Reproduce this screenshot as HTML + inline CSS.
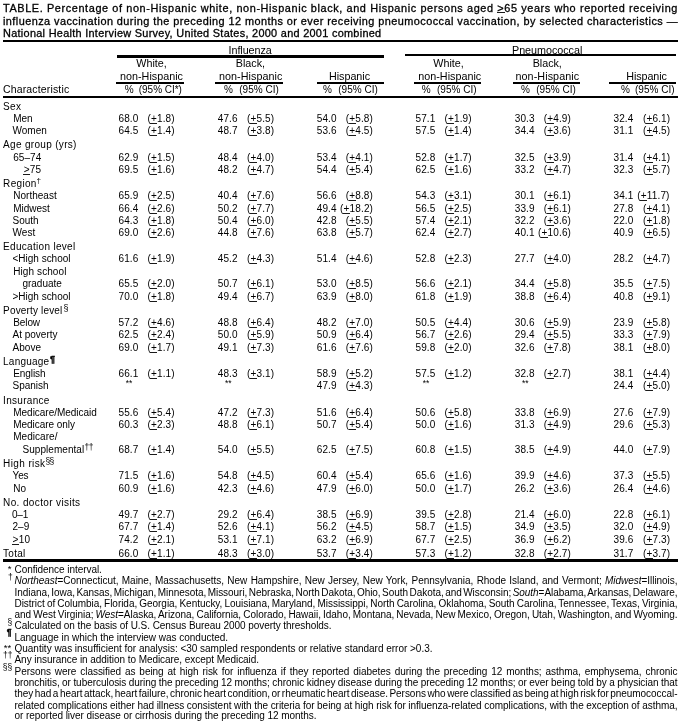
<!DOCTYPE html><html lang="en"><head><meta charset="utf-8"><title>TABLE. Influenza and pneumococcal vaccination, persons aged ≥65 years</title><style>
html,body{margin:0;padding:0;background:#fff;}
#w{position:absolute;left:0;top:0;width:684px;height:723px;overflow:hidden;will-change:transform;}
body{width:684px;height:723px;position:relative;overflow:hidden;font-family:"Liberation Sans",Arial,Helvetica,sans-serif;color:#000;}
.x{position:absolute;white-space:nowrap;line-height:12px;transform-origin:0 0;}
.t{font-size:10.9px;font-weight:normal;-webkit-text-stroke:0.3px #000;}
.h{font-size:10.75px;}
.h2{font-size:10px;}
.h3{font-size:10.5px;}
.b{font-size:10px;}
.f{font-size:10px;letter-spacing:-0.04px;}
.m{font-size:8.5px;}
.s{font-size:8.5px;}
.pg{-webkit-text-stroke:0.4px #000;}
.n{font-size:10px;letter-spacing:0.15px;}
.ma{font-size:9.5px;}
.r{position:absolute;background:#000;}
u{text-decoration:none;display:inline-block;position:relative;}
u:after{content:"";position:absolute;left:-0.5px;right:-0.5px;bottom:1px;height:1px;background:#1a1a1a;}
</style></head><body><div id="w">
<div class="r" style="left:3px;top:40px;width:675px;height:2px"></div>
<div class="r" style="left:117px;top:55px;width:267px;height:3px"></div>
<div class="r" style="left:405px;top:54px;width:271px;height:2px"></div>
<div class="r" style="left:116px;top:82px;width:68px;height:2px"></div>
<div class="r" style="left:215px;top:82px;width:68px;height:2px"></div>
<div class="r" style="left:317px;top:82px;width:67px;height:2px"></div>
<div class="r" style="left:414px;top:82px;width:67px;height:2px"></div>
<div class="r" style="left:513px;top:82px;width:67px;height:2px"></div>
<div class="r" style="left:609px;top:82px;width:67px;height:2px"></div>
<div class="r" style="left:3px;top:96px;width:675px;height:2px"></div>
<div class="r" style="left:3px;top:559px;width:675px;height:3px"></div>
<div class="x t" style="left:3px;top:2px;letter-spacing:0.604px;">TABLE. Percentage of non-Hispanic white, non-Hispanic black, and Hispanic persons aged <u>&gt;</u>65 years who reported receiving</div>
<div class="x t" style="left:3px;top:15px;letter-spacing:0.442px;">influenza vaccination during the preceding 12 months or ever receiving pneumococcal vaccination, by selected characteristics —</div>
<div class="x t" style="left:3px;top:27px;letter-spacing:0.294px;">National Health Interview Survey, United States, 2000 and 2001 combined</div>
<div class="x h" style="left:228.5px;top:44px;letter-spacing:-0.043px;">Influenza</div>
<div class="x h" style="left:512px;top:44px;letter-spacing:-0.022px;">Pneumococcal</div>
<div class="x h" style="left:136.25px;top:57px;letter-spacing:0.005px;">White,</div>
<div class="x h" style="left:433.25px;top:57px;letter-spacing:0.005px;">White,</div>
<div class="x h" style="left:235.75px;top:57px;letter-spacing:-0.005px;">Black,</div>
<div class="x h" style="left:532.75px;top:57px;letter-spacing:-0.047px;">Black,</div>
<div class="x h" style="left:120px;top:70px;letter-spacing:0.021px;">non-Hispanic</div>
<div class="x h" style="left:219px;top:70px;letter-spacing:0.062px;">non-Hispanic</div>
<div class="x h" style="left:418.25px;top:70px;letter-spacing:0.021px;">non-Hispanic</div>
<div class="x h" style="left:515.5px;top:70px;letter-spacing:0.083px;">non-Hispanic</div>
<div class="x h" style="left:329px;top:70px;letter-spacing:-0.029px;">Hispanic</div>
<div class="x h" style="left:626.25px;top:70px;letter-spacing:-0.092px;">Hispanic</div>
<div class="x h3" style="left:3px;top:83px;letter-spacing:0.151px;">Characteristic</div>
<div class="x h2" style="left:124.7px;top:84px;">%</div>
<div class="x h2" style="left:138.75px;top:84px;letter-spacing:-0.018px;">(95% CI*)</div>
<div class="x h2" style="left:223.95px;top:84px;">%</div>
<div class="x h2" style="left:239.25px;top:84px;letter-spacing:0.006px;">(95% CI)</div>
<div class="x h2" style="left:322.95px;top:84px;">%</div>
<div class="x h2" style="left:338.25px;top:84px;letter-spacing:0.006px;">(95% CI)</div>
<div class="x h2" style="left:421.7px;top:84px;">%</div>
<div class="x h2" style="left:437px;top:84px;letter-spacing:0.006px;">(95% CI)</div>
<div class="x h2" style="left:520.95px;top:84px;">%</div>
<div class="x h2" style="left:536.25px;top:84px;letter-spacing:0.006px;">(95% CI)</div>
<div class="x h2" style="left:620.95px;top:84px;">%</div>
<div class="x h2" style="left:635px;top:84px;letter-spacing:0.006px;">(95% CI)</div>
<div class="x b" style="left:3.1px;top:101px;letter-spacing:0.305px;">Sex</div>
<div class="x b" style="left:13.25px;top:113px;letter-spacing:-0.068px;">Men</div>
<div class="x n" style="left:118.45px;top:113px;">68.0</div>
<div class="x n" style="left:147.5px;top:113px;">(<u>+</u>1.8)</div>
<div class="x n" style="left:217.7px;top:113px;">47.6</div>
<div class="x n" style="left:247px;top:113px;">(<u>+</u>5.5)</div>
<div class="x n" style="left:316.7px;top:113px;">54.0</div>
<div class="x n" style="left:345.75px;top:113px;">(<u>+</u>5.8)</div>
<div class="x n" style="left:415.45px;top:113px;">57.1</div>
<div class="x n" style="left:444.5px;top:113px;">(<u>+</u>1.9)</div>
<div class="x n" style="left:514.7px;top:113px;">30.3</div>
<div class="x n" style="left:543.75px;top:113px;">(<u>+</u>4.9)</div>
<div class="x n" style="left:613.45px;top:113px;">32.4</div>
<div class="x n" style="left:643px;top:113px;">(<u>+</u>6.1)</div>
<div class="x b" style="left:12.5px;top:125px;letter-spacing:-0.006px;">Women</div>
<div class="x n" style="left:118.45px;top:125px;">64.5</div>
<div class="x n" style="left:147.5px;top:125px;">(<u>+</u>1.4)</div>
<div class="x n" style="left:217.7px;top:125px;">48.7</div>
<div class="x n" style="left:247px;top:125px;">(<u>+</u>3.8)</div>
<div class="x n" style="left:316.7px;top:125px;">53.6</div>
<div class="x n" style="left:345.75px;top:125px;">(<u>+</u>4.5)</div>
<div class="x n" style="left:415.45px;top:125px;">57.5</div>
<div class="x n" style="left:444.5px;top:125px;">(<u>+</u>1.4)</div>
<div class="x n" style="left:514.7px;top:125px;">34.4</div>
<div class="x n" style="left:543.75px;top:125px;">(<u>+</u>3.6)</div>
<div class="x n" style="left:613.45px;top:125px;">31.1</div>
<div class="x n" style="left:643px;top:125px;">(<u>+</u>4.5)</div>
<div class="x b" style="left:3.1px;top:139px;letter-spacing:0.315px;">Age group (yrs)</div>
<div class="x b" style="left:13.25px;top:152px;letter-spacing:0.037px;">65–74</div>
<div class="x n" style="left:118.45px;top:152px;">62.9</div>
<div class="x n" style="left:147.5px;top:152px;">(<u>+</u>1.5)</div>
<div class="x n" style="left:217.7px;top:152px;">48.4</div>
<div class="x n" style="left:247px;top:152px;">(<u>+</u>4.0)</div>
<div class="x n" style="left:316.7px;top:152px;">53.4</div>
<div class="x n" style="left:345.75px;top:152px;">(<u>+</u>4.1)</div>
<div class="x n" style="left:415.45px;top:152px;">52.8</div>
<div class="x n" style="left:444.5px;top:152px;">(<u>+</u>1.7)</div>
<div class="x n" style="left:514.7px;top:152px;">32.5</div>
<div class="x n" style="left:543.75px;top:152px;">(<u>+</u>3.9)</div>
<div class="x n" style="left:613.45px;top:152px;">31.4</div>
<div class="x n" style="left:643px;top:152px;">(<u>+</u>4.1)</div>
<div class="x b" style="left:23.75px;top:164px;letter-spacing:0.177px;"><u>&gt;</u>75</div>
<div class="x n" style="left:118.45px;top:164px;">69.5</div>
<div class="x n" style="left:147.5px;top:164px;">(<u>+</u>1.6)</div>
<div class="x n" style="left:217.7px;top:164px;">48.2</div>
<div class="x n" style="left:247px;top:164px;">(<u>+</u>4.7)</div>
<div class="x n" style="left:316.7px;top:164px;">54.4</div>
<div class="x n" style="left:345.75px;top:164px;">(<u>+</u>5.4)</div>
<div class="x n" style="left:415.45px;top:164px;">62.5</div>
<div class="x n" style="left:444.5px;top:164px;">(<u>+</u>1.6)</div>
<div class="x n" style="left:514.7px;top:164px;">33.2</div>
<div class="x n" style="left:543.75px;top:164px;">(<u>+</u>4.7)</div>
<div class="x n" style="left:613.45px;top:164px;">32.3</div>
<div class="x n" style="left:643px;top:164px;">(<u>+</u>5.7)</div>
<div class="x b" style="left:3.1px;top:178px;letter-spacing:0.324px;">Region</div>
<div class="x s" style="left:36.4px;top:175px;font-size:8px;">†</div>
<div class="x b" style="left:13.25px;top:190px;letter-spacing:0.016px;">Northeast</div>
<div class="x n" style="left:118.45px;top:190px;">65.9</div>
<div class="x n" style="left:147.5px;top:190px;">(<u>+</u>2.5)</div>
<div class="x n" style="left:217.7px;top:190px;">40.4</div>
<div class="x n" style="left:247px;top:190px;">(<u>+</u>7.6)</div>
<div class="x n" style="left:316.7px;top:190px;">56.6</div>
<div class="x n" style="left:345.75px;top:190px;">(<u>+</u>8.8)</div>
<div class="x n" style="left:415.45px;top:190px;">54.3</div>
<div class="x n" style="left:444.5px;top:190px;">(<u>+</u>3.1)</div>
<div class="x n" style="left:514.7px;top:190px;">30.1</div>
<div class="x n" style="left:543.75px;top:190px;">(<u>+</u>6.1)</div>
<div class="x n" style="left:613.45px;top:190px;">34.1</div>
<div class="x n" style="left:637.3px;top:190px;">(<u>+</u>11.7)</div>
<div class="x b" style="left:13.25px;top:203px;letter-spacing:-0.027px;">Midwest</div>
<div class="x n" style="left:118.45px;top:203px;">66.4</div>
<div class="x n" style="left:147.5px;top:203px;">(<u>+</u>2.6)</div>
<div class="x n" style="left:217.7px;top:203px;">50.2</div>
<div class="x n" style="left:247px;top:203px;">(<u>+</u>7.7)</div>
<div class="x n" style="left:316.7px;top:203px;">49.4</div>
<div class="x n" style="left:340.05px;top:203px;">(<u>+</u>18.2)</div>
<div class="x n" style="left:415.45px;top:203px;">56.5</div>
<div class="x n" style="left:444.5px;top:203px;">(<u>+</u>2.5)</div>
<div class="x n" style="left:514.7px;top:203px;">33.9</div>
<div class="x n" style="left:543.75px;top:203px;">(<u>+</u>6.1)</div>
<div class="x n" style="left:613.45px;top:203px;">27.8</div>
<div class="x n" style="left:643px;top:203px;">(<u>+</u>4.1)</div>
<div class="x b" style="left:12.5px;top:215px;letter-spacing:-0.028px;">South</div>
<div class="x n" style="left:118.45px;top:215px;">64.3</div>
<div class="x n" style="left:147.5px;top:215px;">(<u>+</u>1.8)</div>
<div class="x n" style="left:217.7px;top:215px;">50.4</div>
<div class="x n" style="left:247px;top:215px;">(<u>+</u>6.0)</div>
<div class="x n" style="left:316.7px;top:215px;">42.8</div>
<div class="x n" style="left:345.75px;top:215px;">(<u>+</u>5.5)</div>
<div class="x n" style="left:415.45px;top:215px;">57.4</div>
<div class="x n" style="left:444.5px;top:215px;">(<u>+</u>2.1)</div>
<div class="x n" style="left:514.7px;top:215px;">32.2</div>
<div class="x n" style="left:543.75px;top:215px;">(<u>+</u>3.6)</div>
<div class="x n" style="left:613.45px;top:215px;">22.0</div>
<div class="x n" style="left:643px;top:215px;">(<u>+</u>1.8)</div>
<div class="x b" style="left:12.5px;top:227px;letter-spacing:0.098px;">West</div>
<div class="x n" style="left:118.45px;top:227px;">69.0</div>
<div class="x n" style="left:147.5px;top:227px;">(<u>+</u>2.6)</div>
<div class="x n" style="left:217.7px;top:227px;">44.8</div>
<div class="x n" style="left:247px;top:227px;">(<u>+</u>7.6)</div>
<div class="x n" style="left:316.7px;top:227px;">63.8</div>
<div class="x n" style="left:345.75px;top:227px;">(<u>+</u>5.7)</div>
<div class="x n" style="left:415.45px;top:227px;">62.4</div>
<div class="x n" style="left:444.5px;top:227px;">(<u>+</u>2.7)</div>
<div class="x n" style="left:514.7px;top:227px;">40.1</div>
<div class="x n" style="left:538.05px;top:227px;">(<u>+</u>10.6)</div>
<div class="x n" style="left:613.45px;top:227px;">40.9</div>
<div class="x n" style="left:643px;top:227px;">(<u>+</u>6.5)</div>
<div class="x b" style="left:3.1px;top:241px;letter-spacing:0.305px;">Education level</div>
<div class="x b" style="left:12.5px;top:253px;letter-spacing:-0.008px;">&lt;High school</div>
<div class="x n" style="left:118.45px;top:253px;">61.6</div>
<div class="x n" style="left:147.5px;top:253px;">(<u>+</u>1.9)</div>
<div class="x n" style="left:217.7px;top:253px;">45.2</div>
<div class="x n" style="left:247px;top:253px;">(<u>+</u>4.3)</div>
<div class="x n" style="left:316.7px;top:253px;">51.4</div>
<div class="x n" style="left:345.75px;top:253px;">(<u>+</u>4.6)</div>
<div class="x n" style="left:415.45px;top:253px;">52.8</div>
<div class="x n" style="left:444.5px;top:253px;">(<u>+</u>2.3)</div>
<div class="x n" style="left:514.7px;top:253px;">27.7</div>
<div class="x n" style="left:543.75px;top:253px;">(<u>+</u>4.0)</div>
<div class="x n" style="left:613.45px;top:253px;">28.2</div>
<div class="x n" style="left:643px;top:253px;">(<u>+</u>4.7)</div>
<div class="x b" style="left:13.25px;top:266px;letter-spacing:0.089px;">High school</div>
<div class="x b" style="left:22.5px;top:278px;letter-spacing:-0.029px;">graduate</div>
<div class="x n" style="left:118.45px;top:278px;">65.5</div>
<div class="x n" style="left:147.5px;top:278px;">(<u>+</u>2.0)</div>
<div class="x n" style="left:217.7px;top:278px;">50.7</div>
<div class="x n" style="left:247px;top:278px;">(<u>+</u>6.1)</div>
<div class="x n" style="left:316.7px;top:278px;">53.0</div>
<div class="x n" style="left:345.75px;top:278px;">(<u>+</u>8.5)</div>
<div class="x n" style="left:415.45px;top:278px;">56.6</div>
<div class="x n" style="left:444.5px;top:278px;">(<u>+</u>2.1)</div>
<div class="x n" style="left:514.7px;top:278px;">34.4</div>
<div class="x n" style="left:543.75px;top:278px;">(<u>+</u>5.8)</div>
<div class="x n" style="left:613.45px;top:278px;">35.5</div>
<div class="x n" style="left:643px;top:278px;">(<u>+</u>7.5)</div>
<div class="x b" style="left:12.5px;top:291px;letter-spacing:-0.008px;">&gt;High school</div>
<div class="x n" style="left:118.45px;top:291px;">70.0</div>
<div class="x n" style="left:147.5px;top:291px;">(<u>+</u>1.8)</div>
<div class="x n" style="left:217.7px;top:291px;">49.4</div>
<div class="x n" style="left:247px;top:291px;">(<u>+</u>6.7)</div>
<div class="x n" style="left:316.7px;top:291px;">63.9</div>
<div class="x n" style="left:345.75px;top:291px;">(<u>+</u>8.0)</div>
<div class="x n" style="left:415.45px;top:291px;">61.8</div>
<div class="x n" style="left:444.5px;top:291px;">(<u>+</u>1.9)</div>
<div class="x n" style="left:514.7px;top:291px;">38.8</div>
<div class="x n" style="left:543.75px;top:291px;">(<u>+</u>6.4)</div>
<div class="x n" style="left:613.45px;top:291px;">40.8</div>
<div class="x n" style="left:643px;top:291px;">(<u>+</u>9.1)</div>
<div class="x b" style="left:3.1px;top:305px;letter-spacing:0.165px;">Poverty level</div>
<div class="x s" style="left:63.6px;top:302px;font-size:9px;">§</div>
<div class="x b" style="left:13.25px;top:317px;letter-spacing:-0.100px;">Below</div>
<div class="x n" style="left:118.45px;top:317px;">57.2</div>
<div class="x n" style="left:147.5px;top:317px;">(<u>+</u>4.6)</div>
<div class="x n" style="left:217.7px;top:317px;">48.8</div>
<div class="x n" style="left:247px;top:317px;">(<u>+</u>6.4)</div>
<div class="x n" style="left:316.7px;top:317px;">48.2</div>
<div class="x n" style="left:345.75px;top:317px;">(<u>+</u>7.0)</div>
<div class="x n" style="left:415.45px;top:317px;">50.5</div>
<div class="x n" style="left:444.5px;top:317px;">(<u>+</u>4.4)</div>
<div class="x n" style="left:514.7px;top:317px;">30.6</div>
<div class="x n" style="left:543.75px;top:317px;">(<u>+</u>5.9)</div>
<div class="x n" style="left:613.45px;top:317px;">23.9</div>
<div class="x n" style="left:643px;top:317px;">(<u>+</u>5.8)</div>
<div class="x b" style="left:12.5px;top:329px;letter-spacing:-0.003px;">At poverty</div>
<div class="x n" style="left:118.45px;top:329px;">62.5</div>
<div class="x n" style="left:147.5px;top:329px;">(<u>+</u>2.4)</div>
<div class="x n" style="left:217.7px;top:329px;">50.0</div>
<div class="x n" style="left:247px;top:329px;">(<u>+</u>5.9)</div>
<div class="x n" style="left:316.7px;top:329px;">50.9</div>
<div class="x n" style="left:345.75px;top:329px;">(<u>+</u>6.4)</div>
<div class="x n" style="left:415.45px;top:329px;">56.7</div>
<div class="x n" style="left:444.5px;top:329px;">(<u>+</u>2.6)</div>
<div class="x n" style="left:514.7px;top:329px;">29.4</div>
<div class="x n" style="left:543.75px;top:329px;">(<u>+</u>5.5)</div>
<div class="x n" style="left:613.45px;top:329px;">33.3</div>
<div class="x n" style="left:643px;top:329px;">(<u>+</u>7.9)</div>
<div class="x b" style="left:12.5px;top:342px;letter-spacing:0.028px;">Above</div>
<div class="x n" style="left:118.45px;top:342px;">69.0</div>
<div class="x n" style="left:147.5px;top:342px;">(<u>+</u>1.7)</div>
<div class="x n" style="left:217.7px;top:342px;">49.1</div>
<div class="x n" style="left:247px;top:342px;">(<u>+</u>7.3)</div>
<div class="x n" style="left:316.7px;top:342px;">61.6</div>
<div class="x n" style="left:345.75px;top:342px;">(<u>+</u>7.6)</div>
<div class="x n" style="left:415.45px;top:342px;">59.8</div>
<div class="x n" style="left:444.5px;top:342px;">(<u>+</u>2.0)</div>
<div class="x n" style="left:514.7px;top:342px;">32.6</div>
<div class="x n" style="left:543.75px;top:342px;">(<u>+</u>7.8)</div>
<div class="x n" style="left:613.45px;top:342px;">38.1</div>
<div class="x n" style="left:643px;top:342px;">(<u>+</u>8.0)</div>
<div class="x b" style="left:3.1px;top:356px;letter-spacing:0.206px;">Language</div>
<div class="x s" style="left:49.9px;top:353px;font-size:9px;"><b class="pg">¶</b></div>
<div class="x b" style="left:13.25px;top:368px;letter-spacing:-0.080px;">English</div>
<div class="x n" style="left:118.45px;top:368px;">66.1</div>
<div class="x n" style="left:147.5px;top:368px;">(<u>+</u>1.1)</div>
<div class="x n" style="left:217.7px;top:368px;">48.3</div>
<div class="x n" style="left:247px;top:368px;">(<u>+</u>3.1)</div>
<div class="x n" style="left:316.7px;top:368px;">58.9</div>
<div class="x n" style="left:345.75px;top:368px;">(<u>+</u>5.2)</div>
<div class="x n" style="left:415.45px;top:368px;">57.5</div>
<div class="x n" style="left:444.5px;top:368px;">(<u>+</u>1.2)</div>
<div class="x n" style="left:514.7px;top:368px;">32.8</div>
<div class="x n" style="left:543.75px;top:368px;">(<u>+</u>2.7)</div>
<div class="x n" style="left:613.45px;top:368px;">38.1</div>
<div class="x n" style="left:643px;top:368px;">(<u>+</u>4.4)</div>
<div class="x b" style="left:12.5px;top:380px;letter-spacing:-0.020px;">Spanish</div>
<div class="x s" style="left:125.75px;top:377px;">**</div>
<div class="x s" style="left:225px;top:377px;">**</div>
<div class="x n" style="left:316.7px;top:380px;">47.9</div>
<div class="x n" style="left:345.75px;top:380px;">(<u>+</u>4.3)</div>
<div class="x s" style="left:422.75px;top:377px;">**</div>
<div class="x s" style="left:522px;top:377px;">**</div>
<div class="x n" style="left:613.45px;top:380px;">24.4</div>
<div class="x n" style="left:643px;top:380px;">(<u>+</u>5.0)</div>
<div class="x b" style="left:3.1px;top:395px;letter-spacing:0.303px;">Insurance</div>
<div class="x b" style="left:13.25px;top:407px;letter-spacing:-0.026px;">Medicare/Medicaid</div>
<div class="x n" style="left:118.45px;top:407px;">55.6</div>
<div class="x n" style="left:147.5px;top:407px;">(<u>+</u>5.4)</div>
<div class="x n" style="left:217.7px;top:407px;">47.2</div>
<div class="x n" style="left:247px;top:407px;">(<u>+</u>7.3)</div>
<div class="x n" style="left:316.7px;top:407px;">51.6</div>
<div class="x n" style="left:345.75px;top:407px;">(<u>+</u>6.4)</div>
<div class="x n" style="left:415.45px;top:407px;">50.6</div>
<div class="x n" style="left:444.5px;top:407px;">(<u>+</u>5.8)</div>
<div class="x n" style="left:514.7px;top:407px;">33.8</div>
<div class="x n" style="left:543.75px;top:407px;">(<u>+</u>6.9)</div>
<div class="x n" style="left:613.45px;top:407px;">27.6</div>
<div class="x n" style="left:643px;top:407px;">(<u>+</u>7.9)</div>
<div class="x b" style="left:13.25px;top:419px;letter-spacing:-0.040px;">Medicare only</div>
<div class="x n" style="left:118.45px;top:419px;">60.3</div>
<div class="x n" style="left:147.5px;top:419px;">(<u>+</u>2.3)</div>
<div class="x n" style="left:217.7px;top:419px;">48.8</div>
<div class="x n" style="left:247px;top:419px;">(<u>+</u>6.1)</div>
<div class="x n" style="left:316.7px;top:419px;">50.7</div>
<div class="x n" style="left:345.75px;top:419px;">(<u>+</u>5.4)</div>
<div class="x n" style="left:415.45px;top:419px;">50.0</div>
<div class="x n" style="left:444.5px;top:419px;">(<u>+</u>1.6)</div>
<div class="x n" style="left:514.7px;top:419px;">31.3</div>
<div class="x n" style="left:543.75px;top:419px;">(<u>+</u>4.9)</div>
<div class="x n" style="left:613.45px;top:419px;">29.6</div>
<div class="x n" style="left:643px;top:419px;">(<u>+</u>5.3)</div>
<div class="x b" style="left:13.25px;top:431px;letter-spacing:0.038px;">Medicare/</div>
<div class="x b" style="left:22.5px;top:444px;letter-spacing:0.049px;">Supplemental</div>
<div class="x s" style="left:84.6px;top:441px;font-size:8.5px;letter-spacing:-0.6px;">††</div>
<div class="x n" style="left:118.45px;top:444px;">68.7</div>
<div class="x n" style="left:147.5px;top:444px;">(<u>+</u>1.4)</div>
<div class="x n" style="left:217.7px;top:444px;">54.0</div>
<div class="x n" style="left:247px;top:444px;">(<u>+</u>5.5)</div>
<div class="x n" style="left:316.7px;top:444px;">62.5</div>
<div class="x n" style="left:345.75px;top:444px;">(<u>+</u>7.5)</div>
<div class="x n" style="left:415.45px;top:444px;">60.8</div>
<div class="x n" style="left:444.5px;top:444px;">(<u>+</u>1.5)</div>
<div class="x n" style="left:514.7px;top:444px;">38.5</div>
<div class="x n" style="left:543.75px;top:444px;">(<u>+</u>4.9)</div>
<div class="x n" style="left:613.45px;top:444px;">44.0</div>
<div class="x n" style="left:643px;top:444px;">(<u>+</u>7.9)</div>
<div class="x b" style="left:3.1px;top:458px;letter-spacing:0.388px;">High risk</div>
<div class="x s" style="left:45.45px;top:455px;font-size:8.5px;letter-spacing:-0.6px;">§§</div>
<div class="x b" style="left:12.5px;top:470px;letter-spacing:-0.109px;">Yes</div>
<div class="x n" style="left:118.45px;top:470px;">71.5</div>
<div class="x n" style="left:147.5px;top:470px;">(<u>+</u>1.6)</div>
<div class="x n" style="left:217.7px;top:470px;">54.8</div>
<div class="x n" style="left:247px;top:470px;">(<u>+</u>4.5)</div>
<div class="x n" style="left:316.7px;top:470px;">60.4</div>
<div class="x n" style="left:345.75px;top:470px;">(<u>+</u>5.4)</div>
<div class="x n" style="left:415.45px;top:470px;">65.6</div>
<div class="x n" style="left:444.5px;top:470px;">(<u>+</u>1.6)</div>
<div class="x n" style="left:514.7px;top:470px;">39.9</div>
<div class="x n" style="left:543.75px;top:470px;">(<u>+</u>4.6)</div>
<div class="x n" style="left:613.45px;top:470px;">37.3</div>
<div class="x n" style="left:643px;top:470px;">(<u>+</u>5.5)</div>
<div class="x b" style="left:13.25px;top:483px;letter-spacing:0.102px;">No</div>
<div class="x n" style="left:118.45px;top:483px;">60.9</div>
<div class="x n" style="left:147.5px;top:483px;">(<u>+</u>1.6)</div>
<div class="x n" style="left:217.7px;top:483px;">42.3</div>
<div class="x n" style="left:247px;top:483px;">(<u>+</u>4.6)</div>
<div class="x n" style="left:316.7px;top:483px;">47.9</div>
<div class="x n" style="left:345.75px;top:483px;">(<u>+</u>6.0)</div>
<div class="x n" style="left:415.45px;top:483px;">50.0</div>
<div class="x n" style="left:444.5px;top:483px;">(<u>+</u>1.7)</div>
<div class="x n" style="left:514.7px;top:483px;">26.2</div>
<div class="x n" style="left:543.75px;top:483px;">(<u>+</u>3.6)</div>
<div class="x n" style="left:613.45px;top:483px;">26.4</div>
<div class="x n" style="left:643px;top:483px;">(<u>+</u>4.6)</div>
<div class="x b" style="left:3.1px;top:497px;letter-spacing:0.368px;">No. doctor visits</div>
<div class="x b" style="left:12px;top:509px;letter-spacing:-0.229px;">0–1</div>
<div class="x n" style="left:118.45px;top:509px;">49.7</div>
<div class="x n" style="left:147.5px;top:509px;">(<u>+</u>2.7)</div>
<div class="x n" style="left:217.7px;top:509px;">29.2</div>
<div class="x n" style="left:247px;top:509px;">(<u>+</u>6.4)</div>
<div class="x n" style="left:316.7px;top:509px;">38.5</div>
<div class="x n" style="left:345.75px;top:509px;">(<u>+</u>6.9)</div>
<div class="x n" style="left:415.45px;top:509px;">39.5</div>
<div class="x n" style="left:444.5px;top:509px;">(<u>+</u>2.8)</div>
<div class="x n" style="left:514.7px;top:509px;">21.4</div>
<div class="x n" style="left:543.75px;top:509px;">(<u>+</u>6.0)</div>
<div class="x n" style="left:613.45px;top:509px;">22.8</div>
<div class="x n" style="left:643px;top:509px;">(<u>+</u>6.1)</div>
<div class="x b" style="left:12.5px;top:521px;letter-spacing:0.021px;">2–9</div>
<div class="x n" style="left:118.45px;top:521px;">67.7</div>
<div class="x n" style="left:147.5px;top:521px;">(<u>+</u>1.4)</div>
<div class="x n" style="left:217.7px;top:521px;">52.6</div>
<div class="x n" style="left:247px;top:521px;">(<u>+</u>4.1)</div>
<div class="x n" style="left:316.7px;top:521px;">56.2</div>
<div class="x n" style="left:345.75px;top:521px;">(<u>+</u>4.5)</div>
<div class="x n" style="left:415.45px;top:521px;">58.7</div>
<div class="x n" style="left:444.5px;top:521px;">(<u>+</u>1.5)</div>
<div class="x n" style="left:514.7px;top:521px;">34.9</div>
<div class="x n" style="left:543.75px;top:521px;">(<u>+</u>3.5)</div>
<div class="x n" style="left:613.45px;top:521px;">32.0</div>
<div class="x n" style="left:643px;top:521px;">(<u>+</u>4.9)</div>
<div class="x b" style="left:12.5px;top:534px;letter-spacing:0.344px;"><u>&gt;</u>10</div>
<div class="x n" style="left:118.45px;top:534px;">74.2</div>
<div class="x n" style="left:147.5px;top:534px;">(<u>+</u>2.1)</div>
<div class="x n" style="left:217.7px;top:534px;">53.1</div>
<div class="x n" style="left:247px;top:534px;">(<u>+</u>7.1)</div>
<div class="x n" style="left:316.7px;top:534px;">63.2</div>
<div class="x n" style="left:345.75px;top:534px;">(<u>+</u>6.9)</div>
<div class="x n" style="left:415.45px;top:534px;">67.7</div>
<div class="x n" style="left:444.5px;top:534px;">(<u>+</u>2.5)</div>
<div class="x n" style="left:514.7px;top:534px;">36.9</div>
<div class="x n" style="left:543.75px;top:534px;">(<u>+</u>6.2)</div>
<div class="x n" style="left:613.45px;top:534px;">39.6</div>
<div class="x n" style="left:643px;top:534px;">(<u>+</u>7.3)</div>
<div class="x b" style="left:3.1px;top:548px;letter-spacing:0.255px;">Total</div>
<div class="x n" style="left:118.45px;top:548px;">66.0</div>
<div class="x n" style="left:147.5px;top:548px;">(<u>+</u>1.1)</div>
<div class="x n" style="left:217.7px;top:548px;">48.3</div>
<div class="x n" style="left:247px;top:548px;">(<u>+</u>3.0)</div>
<div class="x n" style="left:316.7px;top:548px;">53.7</div>
<div class="x n" style="left:345.75px;top:548px;">(<u>+</u>3.4)</div>
<div class="x n" style="left:415.45px;top:548px;">57.3</div>
<div class="x n" style="left:444.5px;top:548px;">(<u>+</u>1.2)</div>
<div class="x n" style="left:514.7px;top:548px;">32.8</div>
<div class="x n" style="left:543.75px;top:548px;">(<u>+</u>2.7)</div>
<div class="x n" style="left:613.45px;top:548px;">31.7</div>
<div class="x n" style="left:643px;top:548px;">(<u>+</u>3.7)</div>
<div class="x ma" style="left:7.8px;top:563px;">*</div>
<div class="x f" style="left:14.5px;top:564px;letter-spacing:-0.055px;">Confidence interval.</div>
<div class="x m" style="left:8px;top:571px;">†</div>
<div class="x f" style="left:14.5px;top:575px;word-spacing:0.682px;"><i>Northeast</i>=Connecticut, Maine, Massachusetts, New Hampshire, New Jersey, New York, Pennsylvania, Rhode Island, and Vermont; <i>Midwest</i>=Illinois,</div>
<div class="x f" style="left:14.5px;top:587px;word-spacing:-1.257px;">Indiana, Iowa, Kansas, Michigan, Minnesota, Missouri, Nebraska, North Dakota, Ohio, South Dakota, and Wisconsin; <i>South</i>=Alabama, Arkansas, Delaware,</div>
<div class="x f" style="left:14.5px;top:598px;word-spacing:-0.584px;">District of Columbia, Florida, Georgia, Kentucky, Louisiana, Maryland, Mississippi, North Carolina, Oklahoma, South Carolina, Tennessee, Texas, Virginia,</div>
<div class="x f" style="left:14.5px;top:609px;word-spacing:-0.572px;">and West Virginia; <i>West</i>=Alaska, Arizona, California, Colorado, Hawaii, Idaho, Montana, Nevada, New Mexico, Oregon, Utah, Washington, and Wyoming.</div>
<div class="x m" style="left:7.5px;top:616px;">§</div>
<div class="x f" style="left:14.5px;top:620px;letter-spacing:-0.061px;">Calculated on the basis of U.S. Census Bureau 2000 poverty thresholds.</div>
<div class="x m" style="left:6.8px;top:626px;"><b class="pg">¶</b></div>
<div class="x f" style="left:14.5px;top:632px;letter-spacing:-0.024px;">Language in which the interview was conducted.</div>
<div class="x ma" style="left:3.8px;top:642px;">**</div>
<div class="x f" style="left:14.5px;top:643px;letter-spacing:-0.016px;">Quantity was insufficient for analysis: &lt;30 sampled respondents or relative standard error &gt;0.3.</div>
<div class="x m" style="left:3px;top:649px;">††</div>
<div class="x f" style="left:14.5px;top:654px;letter-spacing:-0.052px;">Any insurance in addition to Medicare, except Medicaid.</div>
<div class="x m" style="left:2.8px;top:661px;">§§</div>
<div class="x f" style="left:14.5px;top:666px;word-spacing:1.193px;">Persons were classified as being at high risk for influenza if they reported diabetes during the preceding 12 months; asthma, emphysema, chronic</div>
<div class="x f" style="left:14.5px;top:677px;word-spacing:-0.273px;">bronchitis, or tuberculosis during the preceding 12 months; chronic kidney disease during the preceding 12 months; or ever being told by a physician that</div>
<div class="x f" style="left:14.5px;top:688px;word-spacing:-1.221px;">they had a heart attack, heart failure, chronic heart condition, or rheumatic heart disease. Persons who were classified as being at high risk for pneumococcal-</div>
<div class="x f" style="left:14.5px;top:700px;word-spacing:-0.126px;">related complications either had illness consistent with the criteria for being at high risk for influenza-related complications, with the exception of asthma,</div>
<div class="x f" style="left:14.5px;top:710px;letter-spacing:-0.045px;">or reported liver disease or cirrhosis during the preceding 12 months.</div>
</div></body></html>
